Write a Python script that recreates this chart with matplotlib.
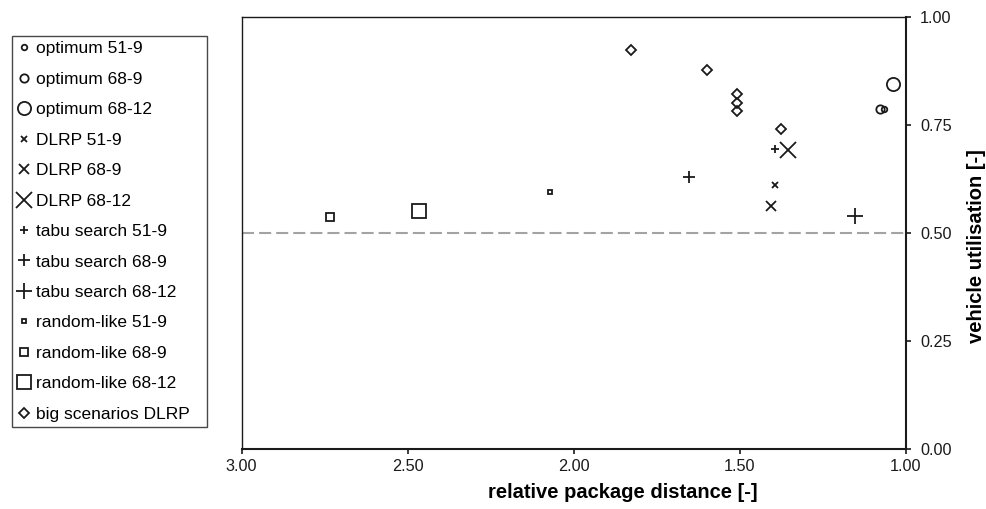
import matplotlib
matplotlib.use("Agg")
import matplotlib.pyplot as plt

plt.rcParams['font.family'] = ['Liberation Sans', 'DejaVu Sans']

# series: label, marker, size, x values, y values
labels = ["optimum 51-9", "optimum 68-9", "optimum 68-12",
          "DLRP 51-9", "DLRP 68-9", "DLRP 68-12",
          "tabu search 51-9", "tabu search 68-9", "tabu search 68-12",
          "random-like 51-9", "random-like 68-9", "random-like 68-12",
          "big scenarios DLRP"]
markers = ['o', 'o', 'o', 'x', 'x', 'x', '+', '+', '+', 's', 's', 's', 'D']
sizes = [4, 6, 9.5, 5, 7, 11, 5.5, 8, 12, 3.5, 6, 10, 5.5]

x_vals = [[1.066], [1.078], [1.038],
          [1.394], [1.407], [1.356],
          [1.394], [1.652], [1.153],
          [2.071], [2.734], [2.466],
          [1.829, 1.598, 1.508, 1.508, 1.508, 1.375]]
y_vals = [[0.787], [0.786], [0.844],
          [0.612], [0.563], [0.693],
          [0.695], [0.630], [0.540],
          [0.595], [0.536], [0.551],
          [0.9225, 0.877, 0.8225, 0.802, 0.782, 0.741]]

ref_y = 0.5
x_ticks = [3.0, 2.5, 2.0, 1.5, 1.0]
y_ticks = [0.0, 0.25, 0.5, 0.75, 1.0]

W, H = 986, 509
fig = plt.figure(figsize=(W/100, H/100), dpi=100)
ax_l, ax_r, ax_t, ax_b = 241.5, 906, 17, 449
ax = fig.add_axes([ax_l/W, (H-ax_b)/H, (ax_r-ax_l)/W, (ax_b-ax_t)/H])

ax.axhline(ref_y, color='#a3a3a3', lw=1.5, ls=(0, (5.8, 2.4)), zorder=1)

handles = []
for lab, m, s, xs, ys in zip(labels, markers, sizes, x_vals, y_vals):
    h, = ax.plot(xs, ys, ls='none', marker=m, ms=s, mfc='none', mec='#1a1a1a',
                 mew=1.3, label=lab, zorder=3)
    handles.append(h)

ax.set_xlim(3.0, 1.0)
ax.set_ylim(0.0, 1.0)
ax.set_xticks(x_ticks)
ax.set_xticklabels([f"{v:.2f}" for v in x_ticks])
ax.set_yticks(y_ticks)
ax.set_yticklabels([f"{v:.2f}" for v in y_ticks])
ax.yaxis.tick_right()
ax.yaxis.set_label_position('right')
ax.tick_params(axis='both', direction='out', length=3.5, width=1.2, labelsize=11.7,
               colors='#1a1a1a', pad=4)
ax.tick_params(axis='y', pad=6.5)
for sp in ax.spines.values():
    sp.set_linewidth(1.0)
    sp.set_color('#1a1a1a')
ax.spines['bottom'].set_linewidth(1.5)
ax.spines['right'].set_linewidth(1.5)

ax.set_xlabel("relative package distance [-]", fontsize=14.5, fontweight='bold')
ax.set_ylabel("vehicle utilisation [-]", fontsize=14.5, fontweight='bold')
ax.xaxis.label.set_va('center')
ax.yaxis.label.set_va('center')
ax.yaxis.label.set_ha('center')
ax.xaxis.set_label_coords((623-ax_l)/(ax_r-ax_l), ((H-492)-(H-ax_b))/(ax_b-ax_t))
ax.yaxis.set_label_coords((977-ax_l)/(ax_r-ax_l), ((H-246)-(H-ax_b))/(ax_b-ax_t))

# legend box target (pixels from top-left)
lg_l, lg_r, lg_t, lg_b = 11.7, 207, 36, 427
fs = 12.5

def make_legend(ls):
    return fig.legend(handles=handles, loc='upper left',
                      bbox_to_anchor=(lg_l/W, (H-lg_b)/H, (lg_r-lg_l)/W, (lg_b-lg_t)/H),
                      mode='expand', frameon=True, fancybox=False, edgecolor='#1a1a1a',
                      fontsize=fs, handlelength=0.8, handletextpad=0.3, borderpad=0.3,
                      labelspacing=ls, borderaxespad=0)

ls0 = 0.6
leg = make_legend(ls0)
fig.canvas.draw()
h0 = leg.get_window_extent().height
leg.remove()
ls1 = ls0 + ((lg_b - lg_t) - h0) / (12 * fs * 100 / 72)
leg = make_legend(ls1)
leg.get_frame().set_linewidth(1.0)

fig.savefig("out.png", dpi=100)
